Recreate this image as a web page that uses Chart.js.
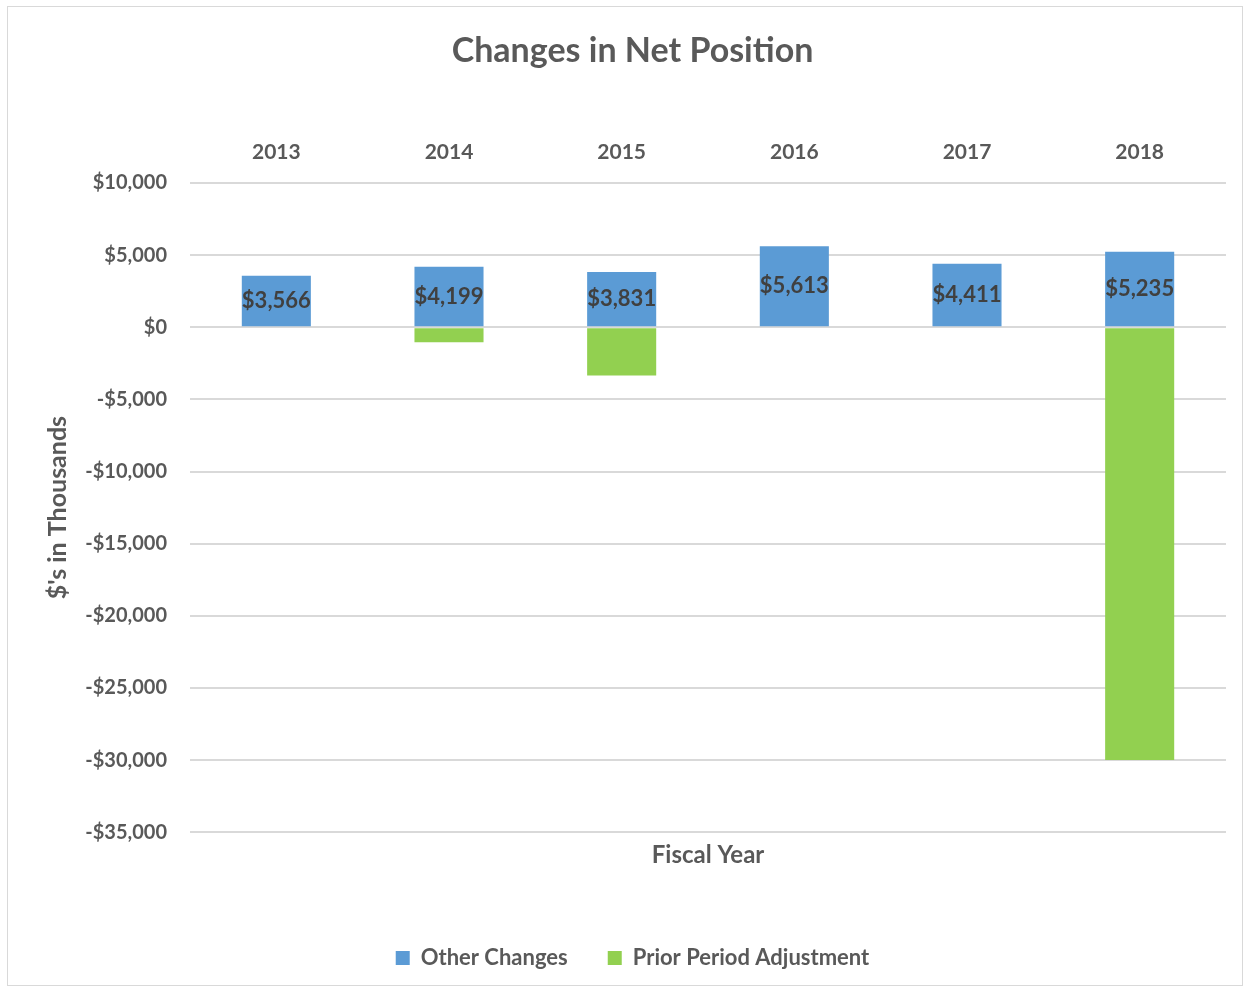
<!DOCTYPE html>
<html>
<head>
<meta charset="utf-8">
<script src="https://cdn.jsdelivr.net/npm/chart.js@4"></script>
<style>
  body { margin: 0; background: #fff; }
  #box { position: absolute; left: 7px; top: 6px; width: 1236px; height: 980px; border: 1px solid #d9d9d9; box-sizing: border-box; }
</style>
</head>
<body>
<div id="box"><canvas id="chart"></canvas></div>
<script>
const years = ["2013", "2014", "2015", "2016", "2017", "2018"];
const otherChanges = [3566, 4199, 3831, 5613, 4411, 5235];
const priorPeriodAdj = [0, -1040, -3340, 0, 0, -30000];
const yTicks = [10000, 5000, 0, -5000, -10000, -15000, -20000, -25000, -30000, -35000];

const fmt = v => (v < 0 ? "-$" : "$") + Math.abs(v).toLocaleString("en-US");
const font = "Lato, 'Open Sans', sans-serif";

const valueLabels = {
  id: "valueLabels",
  afterDatasetsDraw(chart) {
    const ctx = chart.ctx;
    const meta = chart.getDatasetMeta(0);
    ctx.save();
    ctx.font = "bold 22px " + font;
    ctx.fillStyle = "#404040";
    ctx.textAlign = "center";
    ctx.textBaseline = "middle";
    meta.data.forEach((bar, i) => {
      ctx.fillText(fmt(otherChanges[i]), bar.x, (bar.y + bar.base) / 2);
    });
    ctx.restore();
  }
};

new Chart(document.getElementById("chart"), {
  type: "bar",
  data: {
    labels: years,
    datasets: [
      { label: "Other Changes", data: otherChanges, backgroundColor: "#5B9BD5", borderWidth: 0, barPercentage: 0.4, categoryPercentage: 1 },
      { label: "Prior Period Adjustment", data: priorPeriodAdj, backgroundColor: "#92D050", borderWidth: 0, barPercentage: 0.4, categoryPercentage: 1 }
    ]
  },
  options: {
    responsive: true,
    maintainAspectRatio: false,
    animation: false,
    layout: { padding: { left: 31, right: 16, top: 10, bottom: 6 } },
    plugins: {
      title: {
        display: true,
        text: "Changes in Net Position",
        color: "#595959",
        font: { family: font, size: 34, weight: "bold" },
        padding: { top: 14, bottom: 58 }
      },
      legend: {
        position: "bottom",
        labels: {
          color: "#595959",
          font: { family: font, size: 22, weight: "bold" },
          boxWidth: 14, boxHeight: 14, padding: 40
        }
      },
      tooltip: { enabled: false }
    },
    scales: {
      x: {
        position: "top",
        stacked: true,
        grid: { display: false },
        border: { display: false },
        ticks: { color: "#595959", font: { family: font, size: 21, weight: "bold" }, padding: 10 }
      },
      x2: {
        type: "category",
        labels: years,
        position: "bottom",
        grid: { display: false },
        border: { display: false },
        ticks: { display: false },
        title: { display: true, text: "Fiscal Year", color: "#595959", font: { family: font, size: 24, weight: "bold" }, padding: { top: 1, bottom: 37 } }
      },
      y: {
        stacked: true,
        min: -35000,
        max: 10000,
        afterBuildTicks: axis => { axis.ticks = yTicks.map(v => ({ value: v })); },
        afterFit: axis => { axis.width = 151; },
        grid: { color: "#d9d9d9", lineWidth: 2, drawTicks: false },
        border: { display: false },
        ticks: { color: "#595959", font: { family: font, size: 20, weight: "bold" }, padding: 23, callback: v => fmt(v) },
        title: { display: true, text: "$'s in Thousands", color: "#595959", font: { family: font, size: 25, weight: "bold" }, padding: { top: 4, bottom: 0 } }
      }
    }
  },
  plugins: [valueLabels]
});
</script>
</body>
</html>
